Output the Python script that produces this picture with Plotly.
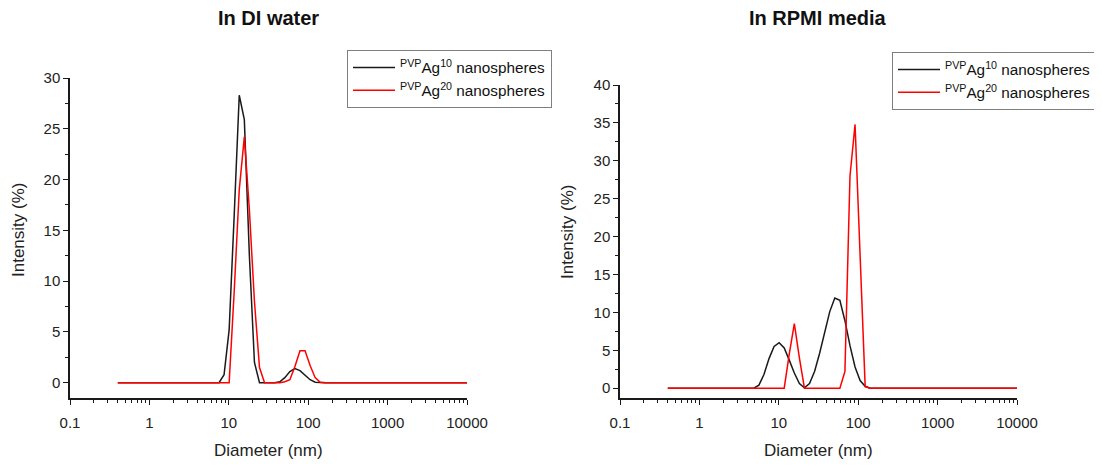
import plotly.graph_objects as go

# Size classes (nm) of the DLS instrument
diameter_nm = [0.4, 0.4632, 0.5365, 0.6213, 0.7195, 0.8332, 0.9649, 1.117, 1.294, 1.499,
               1.736, 2.010, 2.328, 2.696, 3.122, 3.615, 4.187, 4.849, 5.615, 6.503,
               7.531, 8.721, 10.10, 11.70, 13.54, 15.69, 18.17, 21.04, 24.36, 28.21,
               32.67, 37.84, 43.82, 50.75, 58.77, 68.06, 78.82, 91.28, 105.7, 122.4,
               141.8, 164.2, 190.1, 220.2, 255.0, 295.3, 342.0, 396.1, 458.7, 531.2,
               615.1, 712.4, 825.0, 955.4, 1106, 1281, 1484, 1718, 1990, 2305,
               2669, 3091, 3580, 4145, 4801, 5560, 6439, 7456, 8635, 10000]

# In DI water
water_ag10 = [0]*21 + [0.8, 5.2, 16.5, 28.3, 25.9, 12.5, 2.0, 0, 0, 0,
                       0, 0.1, 0.5, 1.1, 1.4, 1.2, 0.7, 0.3, 0.05] + [0]*30
water_ag20 = [0]*23 + [9.0, 19.0, 24.2, 17.0, 8.0, 1.5, 0, 0, 0, 0,
                       0.1, 0.3, 1.6, 3.15, 3.15, 1.7, 0.5, 0.05] + [0]*29

# In RPMI media
rpmi_ag10 = [0]*18 + [0.4, 1.8, 3.9, 5.5, 6.0, 5.3, 3.7, 2.0, 0.6, 0.05, 0.6,
                      2.2, 4.6, 7.4, 10.1, 11.9, 11.6, 8.9, 5.6, 2.8, 1.0, 0.25] + [0]*30
rpmi_ag20 = [0]*24 + [4.5, 8.5, 4.0, 0, 0, 0, 0, 0, 0, 0, 0,
                      2.2, 28.0, 34.8, 18.0, 0.2] + [0]*30

series_names = ["<sup>PVP</sup>Ag<sup>10</sup> nanospheres",
                "<sup>PVP</sup>Ag<sup>20</sup> nanospheres"]
panel_titles = ["In DI water", "In RPMI media"]
x_tickvals = [0.1, 1, 10, 100, 1000, 10000]
x_ticktext = ["0.1", "1", "10", "100", "1000", "10000"]
x_minor = [k * 10**e for e in range(-1, 4) for k in range(2, 10)]

# the page body has an 8 px margin; the figure fills the rest of the window
OFF = 8
W, H = 1102 - OFF, 465 - OFF
FONT = "Liberation Sans, Arial, sans-serif"
BLACK = "#1a1a1a"
RED = "#ff0000"

fig = go.Figure()
fig.add_trace(go.Scatter(x=diameter_nm, y=water_ag10, mode="lines", name=series_names[0],
                         line=dict(color=BLACK, width=1.5), xaxis="x", yaxis="y", legend="legend"))
fig.add_trace(go.Scatter(x=diameter_nm, y=water_ag20, mode="lines", name=series_names[1],
                         line=dict(color=RED, width=1.5), xaxis="x", yaxis="y", legend="legend"))
fig.add_trace(go.Scatter(x=diameter_nm, y=rpmi_ag10, mode="lines", name=series_names[0],
                         line=dict(color=BLACK, width=1.5), xaxis="x2", yaxis="y2", legend="legend2"))
fig.add_trace(go.Scatter(x=diameter_nm, y=rpmi_ag20, mode="lines", name=series_names[1],
                         line=dict(color=RED, width=1.5), xaxis="x2", yaxis="y2", legend="legend2"))

def px(x):
    return (x - OFF) / W

def py(y):
    return 1 - (y - OFF) / H

xax = dict(type="log", range=[-1, 4], tickvals=x_tickvals, ticktext=x_ticktext,
           showline=True, linecolor=BLACK, linewidth=1.5, ticks="outside", ticklen=5,
           tickwidth=1.3, tickcolor=BLACK, showgrid=False, zeroline=False, automargin=False,
           ticklabelstandoff=5,
           tickfont=dict(size=15, color="#222", family=FONT),
           minor=dict(tickvals=x_minor, ticks="outside", ticklen=3, tickwidth=1.2,
                      tickcolor=BLACK, showgrid=False))
yax = dict(showline=True, linecolor=BLACK, linewidth=1.5, ticks="outside", ticklen=5,
           tickwidth=1.3, tickcolor=BLACK, showgrid=False, zeroline=False, dtick=5,
           automargin=False,
           tickfont=dict(size=15, color="#222", family=FONT),
           minor=dict(dtick=2.5, ticks="outside", ticklen=3, tickwidth=1.2,
                      tickcolor=BLACK, showgrid=False))

legend_style = dict(bgcolor="white", bordercolor="#7f7f7f", borderwidth=1,
                    font=dict(size=15.3, color="#111", family=FONT), itemwidth=42,
                    xanchor="right", yanchor="top", tracegroupgap=0)

fig.update_layout(
    width=W, height=H,
    margin=dict(l=0, r=0, t=0, b=0, autoexpand=False),
    paper_bgcolor="white", plot_bgcolor="white",
    font=dict(family=FONT, color="#222"),
    xaxis=dict(xax, domain=[px(70), px(467)], anchor="y"),
    yaxis=dict(yax, domain=[py(398), py(78)], range=[-1.5, 30], anchor="x"),
    xaxis2=dict(xax, domain=[px(620), px(1017)], anchor="y2"),
    yaxis2=dict(yax, domain=[py(398), py(85)], range=[-1.3, 40], anchor="x2"),
    legend=dict(legend_style, x=px(552), y=py(50)),
    legend2=dict(legend_style, x=px(1097), y=py(52)),
    showlegend=True,
)

annotations = []
for cx, title in zip([268, 818], panel_titles):
    annotations.append(dict(text="<b>%s</b>" % title, x=px(cx), y=py(18), xref="paper", yref="paper",
                            showarrow=False, font=dict(size=20, color="#111", family=FONT),
                            xanchor="center", yanchor="middle"))
    annotations.append(dict(text="Diameter (nm)", x=px(cx), y=py(450), xref="paper", yref="paper",
                            showarrow=False, font=dict(size=17, color="#222", family=FONT),
                            xanchor="center", yanchor="middle"))
for cx, cy in [(18, 230), (568, 232)]:
    annotations.append(dict(text="Intensity (%)", x=px(cx), y=py(cy), xref="paper", yref="paper",
                            showarrow=False, textangle=-90,
                            font=dict(size=17, color="#222", family=FONT),
                            xanchor="center", yanchor="middle"))
fig.update_layout(annotations=annotations)

fig.write_html("out.html")
